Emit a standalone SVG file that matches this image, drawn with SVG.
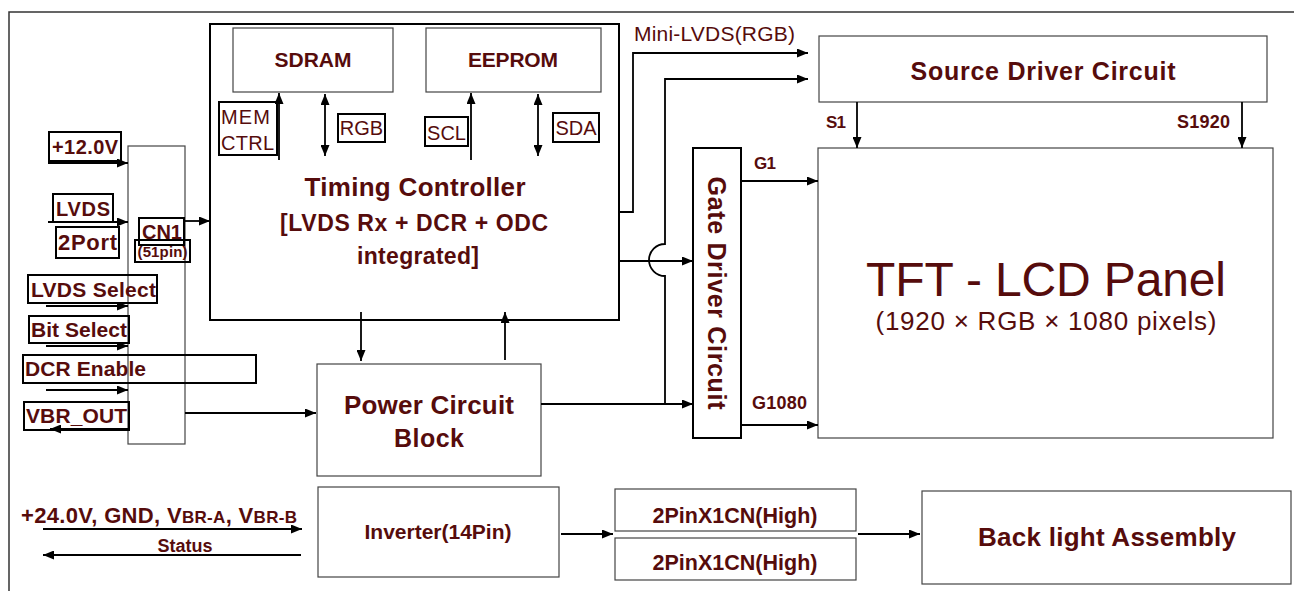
<svg xmlns="http://www.w3.org/2000/svg" width="1294" height="591" viewBox="0 0 1294 591">
<style>
  text { font-family: "Liberation Sans", Arial, sans-serif; fill: #560c0c; }
  .b { font-weight: bold; }
  .m { text-anchor: middle; }
  .thin { fill: #fff; stroke: #444; stroke-width: 1.2; }
  .thick { fill: #fff; stroke: #000; stroke-width: 2; }
  .lbl { fill: none; stroke: #000; stroke-width: 2; }
  .c { fill: none; stroke: #000; stroke-width: 1.8; }
  .ca { fill: none; stroke: #000; stroke-width: 1.8; marker-end: url(#ah); }
  .cd { fill: none; stroke: #000; stroke-width: 1.8; marker-end: url(#ah); marker-start: url(#ah); }
</style>
<defs>
  <marker id="ah" markerUnits="userSpaceOnUse" markerWidth="11" markerHeight="9" refX="11" refY="4.5" orient="auto-start-reverse">
    <path d="M0,0 L11,4.5 L0,9 z" fill="#000"/>
  </marker>
</defs>
<rect width="1294" height="591" fill="#fff"/>
<path d="M1294,12 H9 V591" fill="none" stroke="#333" stroke-width="1.5"/>

<g id="timing-controller">
  <rect class="thick" x="210" y="24" width="409" height="296"/>
  <text class="b m" x="415" y="196" font-size="26" textLength="221">Timing Controller</text>
  <text class="b m" x="414" y="231" font-size="23" textLength="268">[LVDS Rx + DCR + ODC</text>
  <text class="b m" x="418" y="264" font-size="23" textLength="122">integrated]</text>
</g>
<g id="sdram">
  <rect class="thin" x="233" y="28" width="160" height="64"/>
  <text class="b m" x="313" y="67" font-size="21" textLength="77">SDRAM</text>
</g>
<g id="eeprom">
  <rect class="thin" x="426" y="28" width="175" height="64"/>
  <text class="b m" x="513" y="67" font-size="21" textLength="90">EEPROM</text>
</g>
<g id="mem-ctrl">
  <rect class="lbl" x="219" y="102" width="58" height="53"/>
  <text x="221" y="124" font-size="20" textLength="49">MEM</text>
  <text x="221" y="150" font-size="20" textLength="53">CTRL</text>
</g>
<g id="rgb-label">
  <rect class="lbl" x="338" y="114" width="47" height="28"/>
  <text class="m" x="361.5" y="135" font-size="20">RGB</text>
</g>
<g id="scl-label">
  <rect class="lbl" x="425" y="117" width="43" height="29"/>
  <text class="m" x="446.5" y="140" font-size="20">SCL</text>
</g>
<g id="sda-label">
  <rect class="lbl" x="553" y="113" width="46" height="29"/>
  <text class="m" x="576" y="135" font-size="20">SDA</text>
</g>

<g id="cn1">
  <rect class="thin" x="128" y="146" width="57" height="298"/>
  <rect class="lbl" x="139" y="218" width="45" height="27"/>
  <text class="b m" x="162" y="239" font-size="20">CN1</text>
  <rect class="lbl" x="135" y="240" width="55" height="22"/>
  <text class="b m" x="162.5" y="257" font-size="15" textLength="50">(51pin)</text>
</g>

<g id="inputs">
  <rect class="lbl" x="49" y="132" width="72" height="29"/>
  <text class="b" x="52" y="154" font-size="20" textLength="66">+12.0V</text>
  <rect class="lbl" x="53" y="194" width="60" height="28"/>
  <text class="b" x="56" y="216" font-size="20" textLength="54">LVDS</text>
  <rect class="lbl" x="56" y="227" width="63" height="31"/>
  <text class="b" x="58" y="250" font-size="22" textLength="59">2Port</text>
  <rect class="lbl" x="28" y="275" width="129" height="28"/>
  <text class="b" x="31" y="297" font-size="21" textLength="125">LVDS Select</text>
  <rect class="lbl" x="29" y="316" width="100" height="27"/>
  <text class="b" x="31" y="337" font-size="21" textLength="96">Bit Select</text>
  <rect class="lbl" x="23" y="355" width="233" height="28"/>
  <text class="b" x="25" y="376" font-size="21" textLength="121">DCR Enable</text>
  <rect class="lbl" x="24" y="402" width="105" height="28"/>
  <text class="b" x="26" y="423" font-size="21" textLength="101">VBR_OUT</text>
</g>

<g id="power-circuit">
  <rect class="thin" x="317" y="364" width="224" height="112"/>
  <text class="b m" x="429" y="414" font-size="26" textLength="170">Power Circuit</text>
  <text class="b m" x="429" y="447" font-size="25" textLength="70">Block</text>
</g>

<g id="source-driver">
  <rect class="thin" x="819" y="36" width="448" height="66"/>
  <text class="b m" x="1043" y="80" font-size="25" textLength="265">Source Driver Circuit</text>
</g>

<g id="gate-driver">
  <rect class="thick" x="693" y="148" width="48" height="290"/>
  <text class="b m" font-size="25" textLength="233" transform="translate(708,293) rotate(90)">Gate Driver Circuit</text>
</g>

<g id="tft-panel">
  <rect class="thin" x="818" y="148" width="455" height="290"/>
  <text class="m" x="1046" y="296" font-size="48" textLength="360">TFT - LCD Panel</text>
  <text class="m" x="1046" y="330" font-size="26" textLength="341">(1920 × RGB × 1080 pixels)</text>
</g>

<g id="inverter">
  <rect class="thin" x="318" y="487" width="241" height="90"/>
  <text class="b m" x="438" y="539" font-size="21" textLength="147">Inverter(14Pin)</text>
</g>
<g id="pin-connector-1">
  <rect class="thin" x="615" y="489" width="241" height="42"/>
  <text class="b m" x="735" y="523" font-size="21.5" textLength="165">2PinX1CN(High)</text>
</g>
<g id="pin-connector-2">
  <rect class="thin" x="615" y="538" width="241" height="42"/>
  <text class="b m" x="735" y="570" font-size="21.5" textLength="165">2PinX1CN(High)</text>
</g>
<g id="backlight">
  <rect class="thin" x="922" y="491" width="369" height="93"/>
  <text class="b m" x="1107" y="546" font-size="26" textLength="258">Back light Assembly</text>
</g>

<g id="connectors">
  <line class="ca" x1="48" y1="163" x2="128" y2="163" stroke-width="3"/>
  <line class="ca" x1="48" y1="222" x2="128" y2="222" stroke-width="3"/>
  <line class="ca" x1="46" y1="306" x2="128" y2="306"/>
  <line class="ca" x1="46" y1="346" x2="128" y2="346"/>
  <line class="ca" x1="46" y1="390" x2="128" y2="390"/>
  <line class="ca" x1="128" y1="429" x2="50" y2="429"/>
  <line class="ca" x1="185" y1="221" x2="210" y2="221"/>
  <line class="ca" x1="185" y1="413" x2="316" y2="413"/>
  <line class="ca" x1="279" y1="160" x2="279" y2="93"/>
  <line class="cd" x1="325" y1="94" x2="325" y2="156"/>
  <line class="ca" x1="471" y1="160" x2="471" y2="93"/>
  <line class="cd" x1="538" y1="94" x2="538" y2="156"/>
  <line class="ca" x1="361" y1="312" x2="361" y2="361"/>
  <line class="ca" x1="505" y1="360" x2="505" y2="312"/>
  <path class="ca" d="M619,212 H633 V53 H808"/>
  <text x="634" y="41" font-size="21" textLength="161">Mini-LVDS(RGB)</text>
  <path class="ca" d="M665,404 V276 A16,16 0 0 1 665,244 V79 H808"/>
  <line class="ca" x1="619" y1="261" x2="693" y2="261"/>
  <line class="ca" x1="541" y1="404" x2="693" y2="404"/>
  <line class="ca" x1="741" y1="181" x2="818" y2="181"/>
  <text class="b" x="754" y="169" font-size="17" textLength="22">G1</text>
  <line class="ca" x1="741" y1="425" x2="818" y2="425"/>
  <text class="b" x="752" y="409" font-size="18" textLength="55">G1080</text>
  <line class="ca" x1="857" y1="102" x2="857" y2="148"/>
  <text class="b" x="826" y="128" font-size="17" textLength="20">S1</text>
  <line class="ca" x1="1242" y1="102" x2="1242" y2="148"/>
  <text class="b" x="1177" y="128" font-size="18" textLength="53">S1920</text>
  <text class="b" x="21" y="523" font-size="22" textLength="276">+24.0V, GND, V<tspan font-size="17">BR-A</tspan>, V<tspan font-size="17">BR-B</tspan></text>
  <line class="ca" x1="43" y1="529" x2="302" y2="529"/>
  <text class="b m" x="185" y="552" font-size="18" textLength="55">Status</text>
  <line class="ca" x1="301" y1="555" x2="43" y2="555"/>
  <line class="ca" x1="561" y1="534" x2="613" y2="534"/>
  <line class="ca" x1="858" y1="534" x2="920" y2="534"/>
</g>
</svg>
